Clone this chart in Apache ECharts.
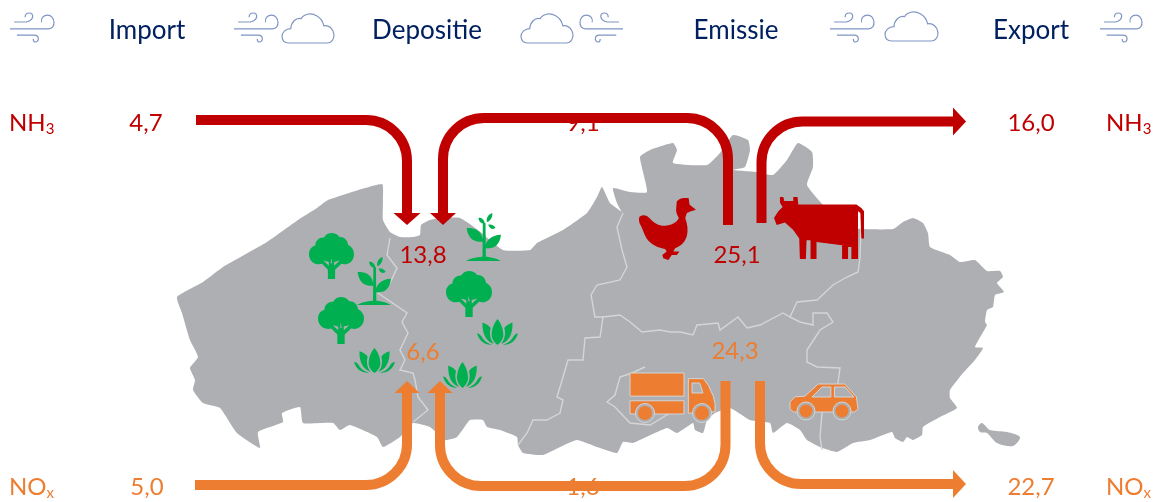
<!DOCTYPE html>
<html>
<head>
<meta charset="utf-8">
<style>html,body{margin:0;padding:0;background:#fff}#c{width:1159px;height:502px}</style>
<script src="https://cdn.jsdelivr.net/npm/echarts@6/dist/echarts.min.js"></script>
</head>
<body>
<div id="c"></div>
<script>
// ---- chart values ----
const stages = ['Import', 'Depositie', 'Emissie', 'Export'];
const species = ['NH3', 'NOx'];
const nh3Flows = [4.7, 13.8, 9.1, 25.1, 16.0];
const noxFlows = [5.0, 6.6, 1.6, 24.3, 22.7];

// ---- layout ----
const RED = '#C00000', ORANGE = '#ED7D31', NAVY = '#002060', GREEN = '#00B050', GRAY = '#ADAFB2', EDGE = '#D4D5D7', SKY = '#7F95C3';
const FONT = 'Lato, "Open Sans", sans-serif';
const stageX = [147, 427, 736, 1031];
const speciesY = [123, 487];
const nh3Anchors = [[146, 123], [423, 255], [583, 123], [737, 255], [1031, 123]];
const noxAnchors = [[147, 487], [423, 352], [583, 487], [735, 351], [1031, 487]];

const mapOutline = [[177,297],[203,282],[223,267],[267,242],[298,220],[317,208],[328,200],[382,184],[383,200],[383,220],[390,232],[400,237],[413,237],[420,235],[421,225],[430,220],[440,218],[460,218],[478,230],[503,250],[530,250],[537,243],[563,230],[587,213],[597,197],[602,187],[610,203],[623,213],[625,218],[617,203],[613,188],[630,192],[647,192],[640,157],[650,150],[673,143],[677,150],[673,163],[707,165],[720,153],[733,135],[748,140],[750,150],[745,167],[733,170],[757,172],[773,175],[787,160],[798,143],[812,152],[813,167],[807,185],[823,205],[840,226],[863,229],[893,229],[903,222],[913,218],[923,223],[928,233],[930,247],[950,255],[960,262],[975,260],[987,271],[1000,271],[1003,277],[997,283],[1004,292],[995,295],[993,307],[987,310],[985,322],[987,325],[975,347],[983,348],[975,360],[963,373],[950,390],[950,398],[957,408],[940,417],[923,427],[922,435],[913,440],[907,437],[903,442],[895,438],[892,432],[870,440],[853,443],[837,452],[820,447],[807,440],[800,430],[787,423],[773,433],[770,423],[750,420],[730,408],[715,413],[707,420],[703,433],[695,430],[693,423],[677,433],[667,428],[633,443],[623,442],[617,453],[597,447],[577,440],[560,447],[543,455],[523,453],[518,445],[517,437],[500,430],[487,427],[483,420],[470,420],[457,437],[445,440],[430,427],[413,423],[400,437],[383,447],[377,437],[350,425],[340,430],[333,423],[303,423],[300,407],[282,413],[283,422],[258,432],[260,448],[237,433],[220,408],[203,403],[193,390],[195,380],[190,368],[198,357],[190,340],[182,313]];
const mapIsland = [[978,427],[982,423],[990,430],[1007,432],[1020,437],[1013,446],[997,443],[987,433],[980,432]];
const mapBorders = [
  [[390,238],[387,255],[397,268],[390,283],[378,293],[407,313],[402,322],[408,333],[400,350],[405,360],[400,370],[413,373],[415,380],[418,397],[428,410],[413,422]],
  [[623,213],[617,227],[622,250],[627,267],[620,280],[597,285],[591,295],[595,317],[603,317],[600,337],[585,338],[583,360],[568,360],[563,377],[557,397],[563,400],[560,413],[547,420],[533,420],[527,433],[518,445]],
  [[603,317],[620,315],[630,322],[642,332],[660,330],[670,332],[680,332],[693,335],[697,325],[718,323],[720,330],[738,317],[747,328],[760,325],[783,313],[790,317],[797,302],[817,300],[833,285],[847,277],[858,272],[860,258],[861,228]],
  [[790,317],[800,322],[813,325],[813,313],[827,313],[833,322],[820,330],[807,350],[807,362],[817,367],[840,368],[838,383],[822,413],[820,437],[822,450]],
  [[645,367],[632,373],[620,377],[615,395],[607,402],[615,407],[630,423],[650,425],[670,413]]
];

const arrowRoutes = [
  {color: RED,    width: 10, pts: [[196,120],[407,120],[407,213]], end: [407,225], half: 13.5},
  {color: RED,    width: 10, pts: [[728,225],[728,118],[443,118],[443,213]], end: [443,225], half: 13},
  {color: RED,    width: 10, pts: [[761.5,223],[761.5,121.5],[953,121.5]], end: [966,121.5], half: 14},
  {color: ORANGE, width: 10, pts: [[195,485],[407,485],[407,393]], end: [407,381], half: 12.5},
  {color: ORANGE, width: 10, pts: [[725.5,381],[725.5,486],[440,486],[440,393]], end: [440,381], half: 12.5},
  {color: ORANGE, width: 10, pts: [[760,381],[760,484],[953,484]], end: [966,484], half: 14}
];

const ICON = {
  tree: 'M22 68C8 68 0 57 0 46C0 36 6 29 14 27C14 16 24 9 33 10C37 3 44 0 50 0C57 0 64 3 68 9C77 8 86 15 87 26C95 29 100 37 100 46C100 58 91 68 79 68L72 67L58 80L58 100L42 100L42 80L29 67ZM32 60L44 71L44 63ZM68 60L56 63L56 71ZM49 54L48.5 66L51.5 66Z',
  sprout: 'M2 45C20 42 50 50 50 85C25 90 5 75 2 45ZM104 65C100 95 85 108 58 105C55 85 75 65 104 65ZM50 30L58 30L59 130L49 130ZM0 143C15 133 40 130 54 130C70 130 92 135 104 143ZM37 15C45 12 55 20 56 32C45 33 38 25 37 15ZM78 0C80 12 72 25 62 27C60 15 65 5 78 0ZM66 35C75 32 85 38 88 45C78 50 70 47 66 35Z',
  lotus: 'M60 0C73 15 78 35 77 50C75 60 68 70 60 75C52 70 45 60 43 50C42 35 47 15 60 0ZM16 10C28 14 36 20 40 26C35 45 40 60 49 72C28 65 15 45 16 10ZM104 10C105 45 92 65 71 72C80 60 85 45 80 26C84 20 92 14 104 10ZM0 42C8 42 12 48 17 56C24 66 34 71 44 74C24 76 7 65 0 42ZM120 42C113 65 96 76 76 74C86 71 96 66 103 56C108 48 112 42 120 42Z',
  hen: 'M30 260C40 253 52 256 60 266C72 280 88 289 105 288C122 287 140 280 146 265C141 255 137 247 138 238L140 215L150 207L160 205L175 205L178 225L197 240L180 245L170 250L165 265C172 285 174 300 170 318C166 335 152 350 135 355L130 365L148 365L140 375L125 375L115 390L100 385L97 375L110 365L105 357C88 354 62 345 50 325C42 312 38 295 32 285C28 278 26 265 30 260Z',
  cow: 'M432 265L445 245L458 232L450 220L450 203L460 203L463 215L490 215L490 203L503 203L505 225L680 225L695 235L703 245L703 325L695 325L692 250L685 245L685 385L665 385L665 350L655 350L655 385L637 385L637 345L560 335L560 385L542 385L542 330L530 330L528 385L510 385L508 325L490 300L465 278L440 285Z',
  truckBody: 'M90 308L252 308L252 378L90 378ZM90 392L252 392L252 432L90 432ZM265 325L310 325L325 345L340 378L345 400L345 425L265 430Z',
  truckGlass: 'M277 338L300 338L310 368L277 368Z',
  car: 'M570 395L585 380L615 378L655 342L735 342L770 380L775 415L765 425L580 425L570 415Z',
  carGlass: 'M635 380L665 352L692 352L692 380ZM703 352L735 352L762 380L703 380Z',
  wind: 'M13.3 16.7L25 16.7C33 15 33 8 28 8C25 8 24 10 24 12M9.3 23.3L46.7 23.3C55 23.3 53 10 46 10C42 10 39 13 40 17M16 29.3L33 29.3C38 29.3 38 36 34 36C32 36 32 34 32 33',
  cloud: 'M190 115L305 115C320 115 326 100 325 90C324 75 310 62 295 65C290 40 262 22 237 35C232 38 230 40 228 44C212 40 198 55 197 73C182 73 170 85 171 97C172 107 178 115 190 115Z'
};

// [shape, x0, y0, x1, y1]
const greenIcons = [
  ['tree',309,233,354,279],['tree',318,297,364,344],['tree',446,271,492,317],
  ['sprout',357,257,391,305],['sprout',466,213,501,261],
  ['lotus',354,348,395,373],['lotus',477,319,518,345],['lotus',443,362,482,388]
];
const henBox = [639,198,696,260], cowBox = [774,197,864,259];
const windBoxes = [[10,13,54,42,false],[234,13,278,42,false],[580,13,623,42,true],[830,13,874,42,false],[1100,13,1142,42,false]];
const cloudBoxes = [[282,14,334,43],[521,14,573,43],[885,12,938,41]];
const wheels = [[645,413,9.5,7],[702,413,9.5,7],[806,411,9,6.5],[842,411,9,6.5]];

function fmt(v){ return v.toFixed(1).replace('.', ','); }

function iconEl(d, box, api, style, extra){
  const a = api.coord([box[0], box[1]]), b = api.coord([box[2], box[3]]);
  const el = {type:'path', shape:{pathData:d, x:a[0], y:a[1], width:b[0]-a[0], height:b[1]-a[1], layout:'cover'}, style:style};
  return Object.assign(el, extra || {});
}
function arrowEl(r, api){
  const P = r.pts.map(p => api.coord(p));
  const R = 41, k = 0.5523;
  let d = 'M' + P[0][0] + ' ' + P[0][1];
  for (let i = 1; i < P.length - 1; i++){
    const p0 = P[i-1], c = P[i], n = P[i+1];
    const u = [Math.sign(c[0]-p0[0]), Math.sign(c[1]-p0[1])], v = [Math.sign(n[0]-c[0]), Math.sign(n[1]-c[1])];
    const s = [c[0]-u[0]*R, c[1]-u[1]*R], e = [c[0]+v[0]*R, c[1]+v[1]*R];
    d += 'L' + s[0] + ' ' + s[1];
    d += 'C' + (s[0]+u[0]*R*k) + ' ' + (s[1]+u[1]*R*k) + ' ' + (e[0]-v[0]*R*k) + ' ' + (e[1]-v[1]*R*k) + ' ' + e[0] + ' ' + e[1];
  }
  const L = P[P.length-1], T = api.coord(r.end);
  d += 'L' + L[0] + ' ' + L[1];
  const horiz = Math.abs(T[0]-L[0]) > Math.abs(T[1]-L[1]);
  const h = r.half;
  const head = horiz
    ? [[L[0],L[1]-h],[T[0],T[1]],[L[0],L[1]+h]]
    : [[L[0]-h,L[1]],[T[0],T[1]],[L[0]+h,L[1]]];
  return {type:'group', children:[
    {type:'path', shape:{pathData:d}, style:{fill:null, stroke:r.color, lineWidth:r.width, lineCap:'butt', lineJoin:'round'}},
    {type:'polygon', shape:{points:head}, style:{fill:r.color}}
  ]};
}
function txt(text, p, api, fill, align, size){
  const c = api.coord(p);
  return {type:'text', x:c[0], y:c[1], style:{text:text, align:align||'center', verticalAlign:'middle', fill:fill, font:(size||24)+'px '+FONT,
    rich:{sub:{fontSize:15, fontFamily:FONT, fill:fill, verticalAlign:'bottom', padding:[13,0,0,0]}}}};
}
function speciesText(s){ return s.slice(0,-1) + '{sub|' + s.slice(-1) + '}'; }

const mapSeries = {
  type:'custom', coordinateSystem:'cartesian2d', silent:true, clip:false, z:1, data:[[0,0]],
  renderItem:(p, api) => ({type:'group', children:[
    {type:'polygon', shape:{points:mapOutline.map(q=>api.coord(q)), smooth:0.15}, style:{fill:GRAY}},
    {type:'polygon', shape:{points:mapIsland.map(q=>api.coord(q)), smooth:0.3}, style:{fill:GRAY}},
    ...mapBorders.map(b => ({type:'polyline', shape:{points:b.map(q=>api.coord(q))}, style:{fill:null, stroke:EDGE, lineWidth:1.4}}))
  ]})
};
const textSeries = {
  type:'custom', coordinateSystem:'cartesian2d', silent:true, clip:false, z:2, data:[[0,0]],
  renderItem:(p, api) => {
    const kids = [];
    stages.forEach((s,i)=>kids.push(txt(s,[stageX[i],31],api,NAVY,'center',26)));
    nh3Flows.forEach((v,i)=>kids.push(txt(fmt(v),nh3Anchors[i],api,RED)));
    noxFlows.forEach((v,i)=>kids.push(txt(fmt(v),noxAnchors[i],api,ORANGE)));
    [RED,ORANGE].forEach((col,i)=>{
      kids.push(txt(speciesText(species[i]),[9,speciesY[i]],api,col,'left'));
      kids.push(txt(speciesText(species[i]),[1106,speciesY[i]],api,col,'left'));
    });
    return {type:'group', children:kids};
  }
};
const iconSeries = {
  type:'custom', coordinateSystem:'cartesian2d', silent:true, clip:false, z:3, data:[[0,0]],
  renderItem:(p, api) => {
    const kids = [];
    windBoxes.forEach(b=>{
      const a = api.coord([b[0],b[1]]), e = api.coord([b[2],b[3]]);
      const extra = b[4] ? {originX:(a[0]+e[0])/2, scaleX:-1} : null;
      kids.push(iconEl(ICON.wind,b,api,{fill:null,stroke:SKY,lineWidth:1.2},extra));
    });
    cloudBoxes.forEach(b=>kids.push(iconEl(ICON.cloud,b,api,{fill:null,stroke:SKY,lineWidth:1.2})));
    greenIcons.forEach(g=>kids.push(iconEl(ICON[g[0]],g.slice(1),api,{fill:GREEN})));
    kids.push(iconEl(ICON.hen,henBox,api,{fill:RED}));
    kids.push(iconEl(ICON.cow,cowBox,api,{fill:RED}));
    kids.push(iconEl(ICON.truckBody,[630,373,715,414],api,{fill:ORANGE,stroke:EDGE,lineWidth:1}));
    kids.push(iconEl(ICON.truckGlass,[692,383,703,393],api,{fill:GRAY,stroke:EDGE,lineWidth:1}));
    kids.push(iconEl(ICON.car,[790,384,858,412],api,{fill:ORANGE,stroke:EDGE,lineWidth:1}));
    kids.push(iconEl(ICON.carGlass,[812,387,854,397],api,{fill:GRAY,stroke:EDGE,lineWidth:1}));
    wheels.forEach(w=>{
      const c = api.coord([w[0],w[1]]);
      kids.push({type:'circle',shape:{cx:c[0],cy:c[1],r:w[2]},style:{fill:GRAY,stroke:EDGE,lineWidth:1}});
      kids.push({type:'circle',shape:{cx:c[0],cy:c[1],r:w[3]},style:{fill:ORANGE}});
    });
    return {type:'group', children:kids};
  }
};
const arrowSeries = {
  type:'custom', coordinateSystem:'cartesian2d', silent:true, clip:false, z:4, data:[[0,0]],
  renderItem:(p, api) => ({type:'group', children:arrowRoutes.map(r=>arrowEl(r,api))})
};

const chart = echarts.init(document.getElementById('c'), null, {renderer:'canvas'});
chart.setOption({
  animation:false,
  backgroundColor:'#fff',
  grid:{left:0, right:0, top:0, bottom:0},
  xAxis:{type:'value', min:0, max:1159, show:false},
  yAxis:{type:'value', min:0, max:502, inverse:true, show:false},
  series:[mapSeries, textSeries, iconSeries, arrowSeries]
});
</script>
</body>
</html>
